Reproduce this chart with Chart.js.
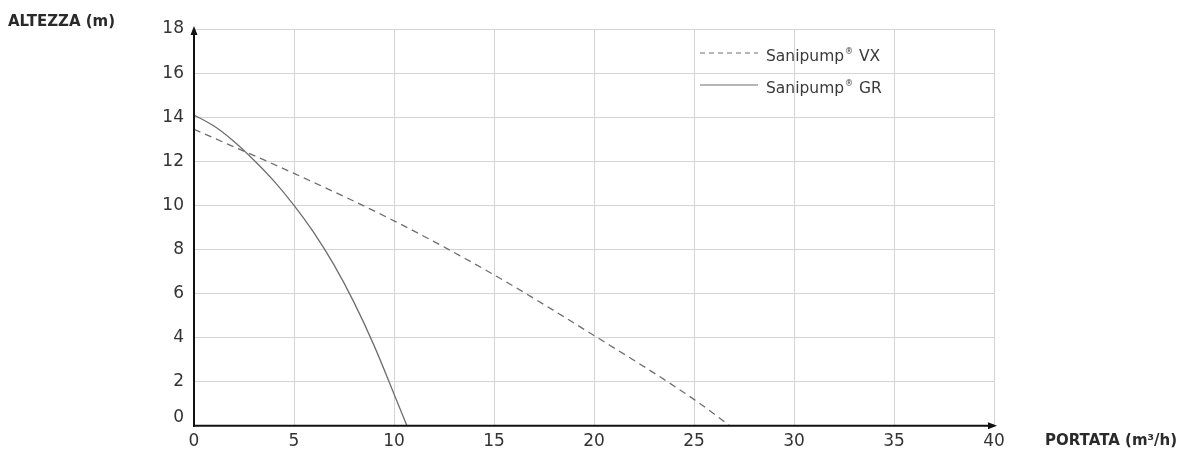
<!DOCTYPE html>
<html>
<head>
<meta charset="utf-8">
<script src="https://cdn.jsdelivr.net/npm/chart.js@4/dist/chart.umd.min.js"></script>
<style>
  html, body { margin: 0; padding: 0; background: #fff; }
  #wrap { position: relative; width: 1183px; height: 452px; }
</style>
</head>
<body>
<div id="wrap"><canvas id="c" width="1183" height="452"></canvas></div>
<script>
// ---- data ----
const seriesNames = ["Sanipump", "Sanipump"];
const seriesSuffix = [" VX", " GR"];
const vxFlow = [0, 5, 10, 15, 20, 25, 26.8];
const vxHead = [13.45, 11.45, 9.3, 6.85, 4.1, 1.2, 0];
const grFlow = [0, 1, 2, 3, 4, 5, 6, 7, 8, 9, 10, 10.65];
const grHead = [14.1, 13.6, 12.9, 12.05, 11.1, 10.0, 8.75, 7.3, 5.6, 3.65, 1.45, 0];
const xTicks = [0, 5, 10, 15, 20, 25, 30, 35, 40];
const yTicks = [0, 2, 4, 6, 8, 10, 12, 14, 16, 18];
const yTitle = "ALTEZZA (m)";
const xTitle = "PORTATA (m\u00B3/h)";

const FONT = "'DejaVu Sans', sans-serif";
const LINE_COLOR = "#6e6e6e";

const toPts = (xs, ys) => xs.map((x, i) => ({ x: x, y: ys[i] }));

const overlay = {
  id: 'overlay',
  afterDraw(chart) {
    const ctx = chart.ctx;
    const xs = chart.scales.x, ys = chart.scales.y;
    const x0 = xs.getPixelForValue(0), y0 = ys.getPixelForValue(0);
    const xEnd = xs.getPixelForValue(40), yTop = ys.getPixelForValue(18);
    ctx.save();
    // axes with arrows
    ctx.strokeStyle = '#111'; ctx.fillStyle = '#111'; ctx.lineWidth = 2;
    ctx.beginPath(); ctx.moveTo(x0, y0 + 1); ctx.lineTo(x0, yTop); ctx.stroke();
    ctx.beginPath(); ctx.moveTo(x0, yTop - 3); ctx.lineTo(x0 - 3.5, yTop + 6); ctx.lineTo(x0 + 3.5, yTop + 6); ctx.closePath(); ctx.fill();
    ctx.beginPath(); ctx.moveTo(x0 - 1, y0); ctx.lineTo(xEnd, y0); ctx.stroke();
    ctx.beginPath(); ctx.moveTo(xEnd + 3, y0); ctx.lineTo(xEnd - 6, y0 - 3.5); ctx.lineTo(xEnd - 6, y0 + 3.5); ctx.closePath(); ctx.fill();
    // axis titles
    ctx.fillStyle = '#2a2a2a';
    ctx.font = "bold 15px " + FONT;
    ctx.textBaseline = 'middle'; ctx.textAlign = 'left';
    ctx.fillText(yTitle, 8, 22);
    ctx.fillText(xTitle, 1045, 441);
    // legend
    const items = [{ y: 53, dash: [5, 4] }, { y: 85, dash: [] }];
    items.forEach((it, i) => {
      ctx.strokeStyle = LINE_COLOR; ctx.lineWidth = 1.2;
      ctx.setLineDash(it.dash);
      ctx.beginPath(); ctx.moveTo(700, it.y); ctx.lineTo(758, it.y); ctx.stroke();
      ctx.setLineDash([]);
      ctx.fillStyle = '#3a3a3a';
      ctx.font = "15.5px " + FONT;
      ctx.textBaseline = 'alphabetic';
      const base = it.y + 8;
      ctx.fillText(seriesNames[i], 766, base);
      let w = ctx.measureText(seriesNames[i]).width;
      ctx.font = "8px " + FONT;
      ctx.fillText("\u00AE", 766 + w + 1, base - 7);
      const w2 = ctx.measureText("\u00AE").width;
      ctx.font = "15.5px " + FONT;
      ctx.fillText(seriesSuffix[i], 766 + w + 2 + w2, base);
    });
    ctx.restore();
  }
};

new Chart(document.getElementById('c'), {
  type: 'line',
  data: {
    datasets: [
      { label: "Sanipump\u00AE VX", data: toPts(vxFlow, vxHead), borderColor: LINE_COLOR, borderWidth: 1.3,
        borderDash: [7, 5], pointRadius: 0, cubicInterpolationMode: 'monotone', fill: false },
      { label: "Sanipump\u00AE GR", data: toPts(grFlow, grHead), borderColor: LINE_COLOR, borderWidth: 1.3,
        pointRadius: 0, cubicInterpolationMode: 'monotone', fill: false }
    ]
  },
  options: {
    responsive: false,
    animation: false,
    devicePixelRatio: 1,
    layout: { padding: { top: 29, right: 189, left: 0, bottom: 0 } },
    plugins: { legend: { display: false }, tooltip: { enabled: false } },
    scales: {
      x: {
        type: 'linear', min: 0, max: 40,
        afterBuildTicks: s => { s.ticks = xTicks.map(v => ({ value: v })); },
        afterFit: s => { s.height = 25; },
        grid: { color: '#d4d4d4', lineWidth: 1, drawTicks: false },
        border: { display: false },
        ticks: { padding: 6, color: '#333', font: { family: FONT, size: 17 }, maxRotation: 0 }
      },
      y: {
        type: 'linear', min: 0, max: 18,
        afterBuildTicks: s => { s.ticks = yTicks.map(v => ({ value: v })); },
        afterFit: s => { s.width = 194; },
        grid: { color: '#d4d4d4', lineWidth: 1, drawTicks: false },
        border: { display: false },
        ticks: {
          padding: 10, color: '#333',
          // the "0" label sits slightly above the axis in the reference
          callback: v => (v === 0 ? ['0', ''] : String(v)),
          font: c => ({ family: FONT, size: 17, lineHeight: (c.tick && c.tick.value === 0) ? 0.95 : 1.2 })
        }
      }
    }
  },
  plugins: [overlay]
});
</script>
</body>
</html>
